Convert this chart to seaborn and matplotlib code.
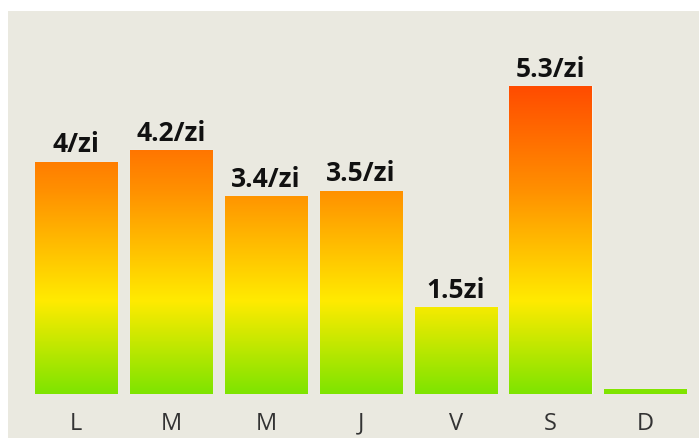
import numpy as np
import pandas as pd
import seaborn as sns
import matplotlib.pyplot as plt
from matplotlib.colors import LinearSegmentedColormap
from matplotlib.patches import Rectangle

days = ["L", "M", "M", "J", "V", "S", "D"]
values = [4.0, 4.2, 3.4, 3.5, 1.5, 5.3, 0.0]
value_labels = ["4/zi", "4.2/zi", "3.4/zi", "3.5/zi", "1.5zi", "5.3/zi", ""]

BG = "#eae9e0"
grad = LinearSegmentedColormap.from_list(
    "heat", [(0.0, "#7ee400"), (0.3, "#ffeb00"), (0.66, "#ff9000"), (1.0, "#ff4b00")]
)

sns.set_theme(style="white")
plt.rcParams["font.family"] = ["Open Sans", "DejaVu Sans"]

fig = plt.figure(figsize=(6.99, 4.39), dpi=100)
fig.patch.set_facecolor("white")
# beige panel (white strip on top and left)
fig.patches.append(Rectangle((8 / 699, 0), 1, 427 / 439, transform=fig.transFigure,
                             facecolor=BG, edgecolor="none", zorder=-5))

ax = fig.add_axes([8 / 699, 44 / 439, 691 / 699, 383 / 439])
ax.set_facecolor("none")

df = pd.DataFrame({"day": range(len(days)), "value": values})
df["shown"] = df["value"].clip(lower=0.09)  # empty day still gets a thin bar
sns.barplot(data=df, x="day", y="shown", width=0.865, ax=ax,
            facecolor="none", edgecolor=(1, 1, 1, 0.45), linewidth=1)

vmax = max(values)
img = np.linspace(0, 1, 256).reshape(-1, 1)
for bar in ax.patches:
    x0 = bar.get_x()
    w = bar.get_width()
    im = ax.imshow(img, cmap=grad, origin="lower", aspect="auto",
                   extent=(x0, x0 + w, 0, vmax), zorder=1)
    im.set_clip_path(bar)

ax.bar_label(ax.containers[0], labels=value_labels, padding=3,
             fontsize=19, fontweight="bold", color="#111111")

ax.set_xlim(-0.717, 6.565)
ax.set_ylim(0, 6.59)
ax.set_xticks(range(len(days)))
ax.set_xticklabels(days, fontsize=17, color="#333333")
ax.tick_params(axis="x", length=0, pad=12)
ax.set_yticks([])
ax.set_xlabel("")
ax.set_ylabel("")
sns.despine(ax=ax, left=True, bottom=True)

fig.savefig("out.png", dpi=100)
